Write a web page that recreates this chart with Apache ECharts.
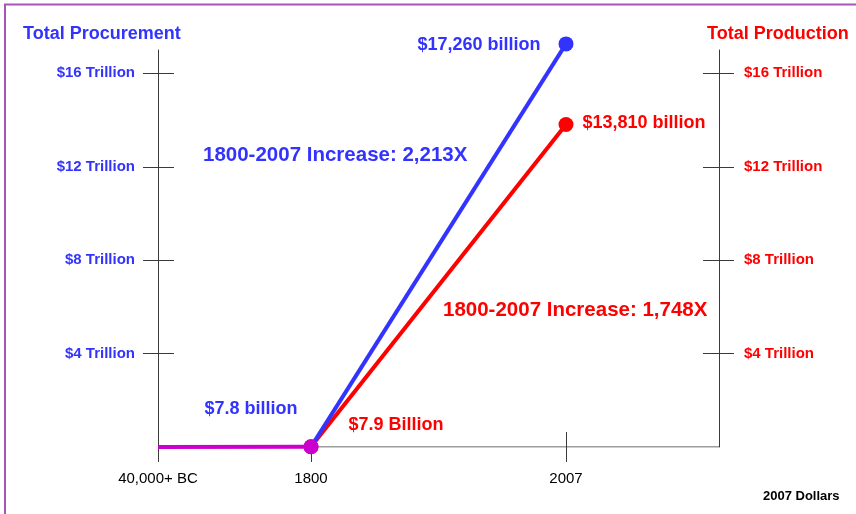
<!DOCTYPE html>
<html>
<head>
<meta charset="utf-8">
<script src="https://cdn.jsdelivr.net/npm/echarts@6/dist/echarts.min.js"></script>
<style>
  html, body { margin: 0; padding: 0; background: #ffffff; }
  #chart { width: 856px; height: 514px; }
</style>
</head>
<body>
<div id="chart"></div>
<script>
// Era slots along the horizontal axis (blank slots keep the eras spaced apart)
const xCategories = ['40,000+ BC', '', '', '1800', '', '', '', '', '2007', '', '', ''];

// Values in billions of 2007 dollars
const procurementBn = [0, null, null, 7.8, null, null, null, null, 17260, null, null, null];
const productionBn  = [0, null, null, 7.9, null, null, null, null, 13810, null, null, null];

// Trillion tick marks on both vertical axes
const yTicks = [4, 8, 12, 16];

const BLUE = '#3333ff';
const RED = '#ff0000';
const PURPLE = '#cc00cc';
const AXIS = '#3a3a3a';
const FONT = '"Liberation Sans", Arial, sans-serif';

const i1800 = xCategories.indexOf('1800');
const i2007 = xCategories.indexOf('2007');

const toTn = v => (v == null ? null : v / 1000);
const money = (bn, word) => '$' + bn.toLocaleString('en-US') + ' ' + word;

// Shared (pre-1800) segment, then the two diverging series
const earlyTn = procurementBn.map((v, i) => (i <= i1800 ? toTn(v) : null));
const lateSeries = (arr) => arr.map((v, i) => (i >= i1800 ? toTn(v) : null));

const procTn = lateSeries(procurementBn);
const prodTn = lateSeries(productionBn);

const baseDashed = xCategories.map((c, i) => (i <= i1800 ? 0 : null));
const baseSolid = xCategories.map((c, i) => (i >= i1800 ? 0 : null));

const procIncrease = Math.round(procurementBn[i2007] / procurementBn[i1800]).toLocaleString('en-US');
const prodIncrease = Math.round(productionBn[i2007] / productionBn[i1800]).toLocaleString('en-US');

function pointData(arr, bnArr, color, labels) {
  return arr.map((v, i) => {
    if (v == null) return null;
    const item = { value: v };
    item.itemStyle = { color: i === i1800 ? PURPLE : color };
    if (labels[i]) {
      item.label = Object.assign({
        show: true,
        color: color,
        fontFamily: FONT,
        fontWeight: 'bold',
        fontSize: 18,
        formatter: money(bnArr[i], labels[i].word)
      }, labels[i].style);
    }
    return item;
  });
}

const procLabels = {};
procLabels[i1800] = { word: 'billion', style: { position: 'left', distance: 6, offset: [0, -38] } };
procLabels[i2007] = { word: 'billion', style: { position: 'left', distance: 18, offset: [0, 1] } };

const prodLabels = {};
prodLabels[i1800] = { word: 'Billion', style: { position: 'right', distance: 30, offset: [0, -22] } };
prodLabels[i2007] = { word: 'billion', style: { position: 'right', distance: 9, offset: [0, -1] } };

const yBase = {
  type: 'value',
  min: 0,
  max: 17,
  splitLine: { show: false },
  axisLine: { show: false },
  axisLabel: { show: false },
  axisTick: { show: true, inside: true, length: 16, customValues: yTicks, lineStyle: { color: AXIS } }
};

const option = {
  animation: false,
  backgroundColor: '#ffffff',
  grid: { left: 158, right: 137, top: 50, bottom: 67, containLabel: false },
  xAxis: [
    {
      type: 'category',
      data: xCategories,
      boundaryGap: false,
      axisLine: { show: false },
      axisTick: {
        show: true, length: 15,
        interval: (i, v) => v !== '',
        lineStyle: { color: AXIS }
      },
      axisLabel: {
        interval: 0, margin: 24,
        color: '#000000', fontFamily: FONT, fontSize: 15
      },
      splitLine: { show: false }
    },
    {
      type: 'category',
      data: xCategories,
      boundaryGap: false,
      position: 'bottom',
      axisLine: { show: false },
      axisTick: {
        show: true, inside: true, length: 15,
        interval: (i) => i === i2007,
        lineStyle: { color: AXIS }
      },
      axisLabel: { show: false },
      splitLine: { show: false }
    }
  ],
  yAxis: [
    Object.assign({}, yBase, {
      position: 'left',
      axisLine: { show: true, lineStyle: { color: AXIS, width: 1 } },
      axisTick: { show: true, inside: false, length: 15, customValues: yTicks, lineStyle: { color: AXIS } },
      axisLabel: {
        show: true, customValues: yTicks, margin: 23,
        formatter: v => '$' + v + ' Trillion',
        color: BLUE, fontFamily: FONT, fontWeight: 'bold', fontSize: 15
      }
    }),
    Object.assign({}, yBase, { position: 'left' }),
    Object.assign({}, yBase, {
      position: 'right',
      axisLine: { show: true, lineStyle: { color: AXIS, width: 1 } },
      axisTick: { show: true, inside: false, length: 15, customValues: yTicks, lineStyle: { color: AXIS } },
      axisLabel: {
        show: true, customValues: yTicks, margin: 25,
        formatter: v => '$' + v + ' Trillion',
        color: RED, fontFamily: FONT, fontWeight: 'bold', fontSize: 15
      }
    }),
    Object.assign({}, yBase, { position: 'right' })
  ],
  graphic: [
    {
      type: 'rect', silent: true, z: 100,
      shape: { x: 5, y: 4.5, width: 1000, height: 700 },
      style: { fill: 'none', stroke: '#a855b8', lineWidth: 2 }
    },
    {
      type: 'text', left: 23, top: 25,
      style: { text: 'Total Procurement', fill: BLUE, font: 'bold 18px ' + FONT }
    },
    {
      type: 'text', left: 707, top: 25,
      style: { text: 'Total Production', fill: RED, font: 'bold 18px ' + FONT }
    },
    {
      type: 'text', left: 763, top: 490,
      style: { text: '2007 Dollars', fill: '#000000', font: 'bold 13px ' + FONT }
    },
    {
      type: 'text', left: 203, top: 145,
      style: { text: '1800-2007 Increase: ' + procIncrease + 'X', fill: BLUE, font: 'bold 20.5px ' + FONT }
    },
    {
      type: 'text', left: 443, top: 300,
      style: { text: '1800-2007 Increase: ' + prodIncrease + 'X', fill: RED, font: 'bold 20.5px ' + FONT }
    }
  ],
  series: [
    {
      name: 'baseline-early', type: 'line', data: baseDashed, silent: true,
      symbol: 'none', z: 1,
      lineStyle: { color: AXIS, width: 1, type: [4, 3] }
    },
    {
      name: 'baseline', type: 'line', data: baseSolid, silent: true,
      symbol: 'none', z: 1,
      lineStyle: { color: AXIS, width: 1 }
    },
    {
      name: 'Total Production', type: 'line', z: 3, clip: false, connectNulls: true,
      data: pointData(prodTn, productionBn, RED, prodLabels),
      symbol: 'circle', symbolSize: 15, showAllSymbol: true,
      lineStyle: { color: RED, width: 4 },
      itemStyle: { color: RED }
    },
    {
      name: 'Total Procurement', type: 'line', z: 4, clip: false, connectNulls: true,
      data: pointData(procTn, procurementBn, BLUE, procLabels),
      symbol: 'circle', symbolSize: 15, showAllSymbol: true,
      lineStyle: { color: BLUE, width: 4 },
      itemStyle: { color: BLUE }
    },
    {
      name: 'Before 1800', type: 'line', z: 3, clip: false, connectNulls: true,
      data: earlyTn, symbol: 'none',
      lineStyle: { color: PURPLE, width: 4 }
    }
  ]
};

const chart = echarts.init(document.getElementById('chart'), null, { renderer: 'canvas' });
chart.setOption(option);
</script>
</body>
</html>
